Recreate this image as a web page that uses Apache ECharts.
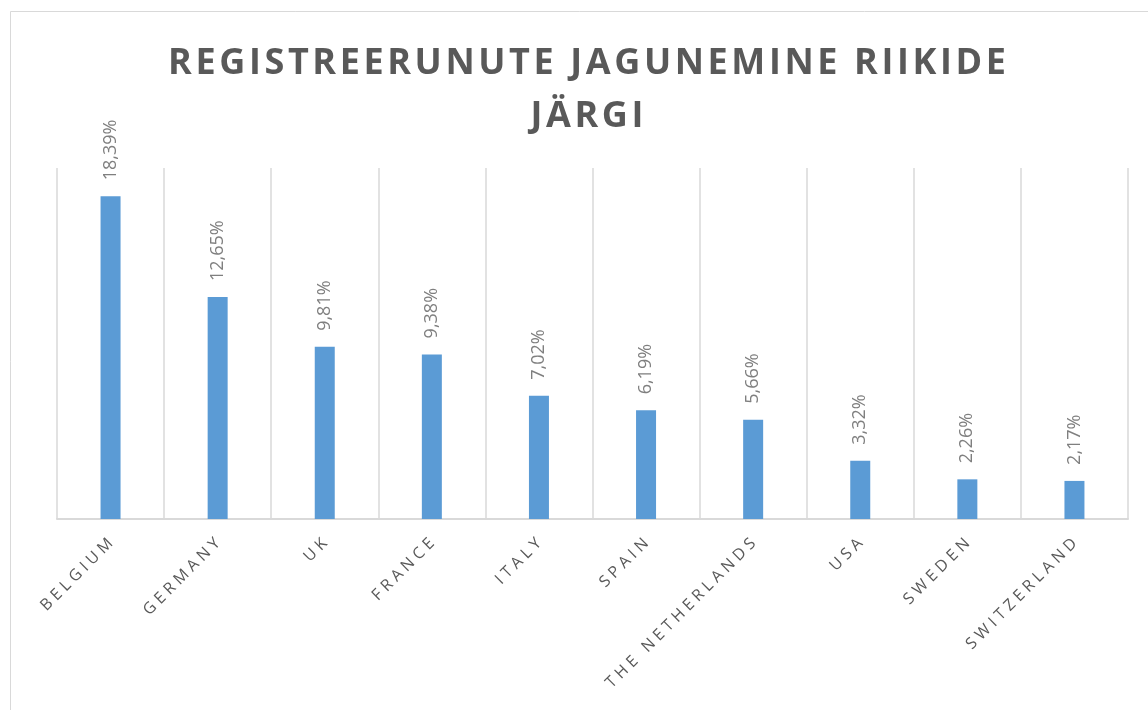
<!DOCTYPE html>
<html>
<head>
<meta charset="utf-8">
<script src="https://cdn.jsdelivr.net/npm/echarts@6/dist/echarts.min.js"></script>
<style>
  html, body { margin: 0; padding: 0; background: #fff; }
  #main { width: 1148px; height: 710px; }
</style>
</head>
<body>
<div id="main"></div>
<script>
var countries = ['BELGIUM', 'GERMANY', 'UK', 'FRANCE', 'ITALY', 'SPAIN', 'THE NETHERLANDS', 'USA', 'SWEDEN', 'SWITZERLAND'];
var shares = [18.39, 12.65, 9.81, 9.38, 7.02, 6.19, 5.66, 3.32, 2.26, 2.17];
var titleLines = ['REGISTREERUNUTE JAGUNEMINE RIIKIDE', 'JÄRGI'];

var myChart = echarts.init(document.getElementById('main'));

// spaced out letters like the original excel look
function spaced(s, gap) {
    return s.split('').join(gap);
}

var option = {
    backgroundColor: '#fff',
    animation: false,
    graphic: [{
        type: 'rect',
        shape: { x: 10.5, y: 11.5, width: 1160, height: 720 },
        style: { fill: 'none', stroke: '#d9d9d9', lineWidth: 1 }
    }],
    title: {
        text: titleLines.map(function (t) { return spaced(t, '\u200a'); }).join('\n'),
        left: 582,
        top: 32,
        textAlign: 'center',
        textStyle: {
            fontFamily: 'Open Sans',
            fontWeight: 'bold',
            fontSize: 36,
            lineHeight: 53,
            color: '#595959'
        }
    },
    grid: {
        left: 57,
        right: 20,
        top: 168,
        bottom: 191
    },
    xAxis: {
        type: 'category',
        data: countries,
        axisLine: { lineStyle: { color: '#d9d9d9', width: 2 } },
        axisTick: { show: false },
        splitLine: { show: true, lineStyle: { color: '#d9d9d9', width: 1.5 } },
        axisLabel: {
            rotate: 45,
            interval: 0,
            margin: 22,
            color: '#595959',
            fontFamily: 'Open Sans',
            fontSize: 16,
            formatter: function (v) { return spaced(v, '\u2009\u200a'); }
        }
    },
    yAxis: {
        type: 'value',
        min: 0,
        max: 20,
        show: false,
        splitLine: { show: false }
    },
    series: [{
        type: 'bar',
        data: shares,
        barWidth: 20,
        itemStyle: { color: '#5b9bd5' },
        label: {
            show: true,
            position: 'top',
            rotate: 90,
            align: 'left',
            verticalAlign: 'middle',
            distance: 16,
            color: '#7f7f7f',
            fontFamily: 'Open Sans',
            fontSize: 18,
            formatter: function (p) {
                return p.value.toFixed(2).replace('.', ',') + '%';
            }
        }
    }]
};
myChart.setOption(option);
</script>
</body>
</html>
